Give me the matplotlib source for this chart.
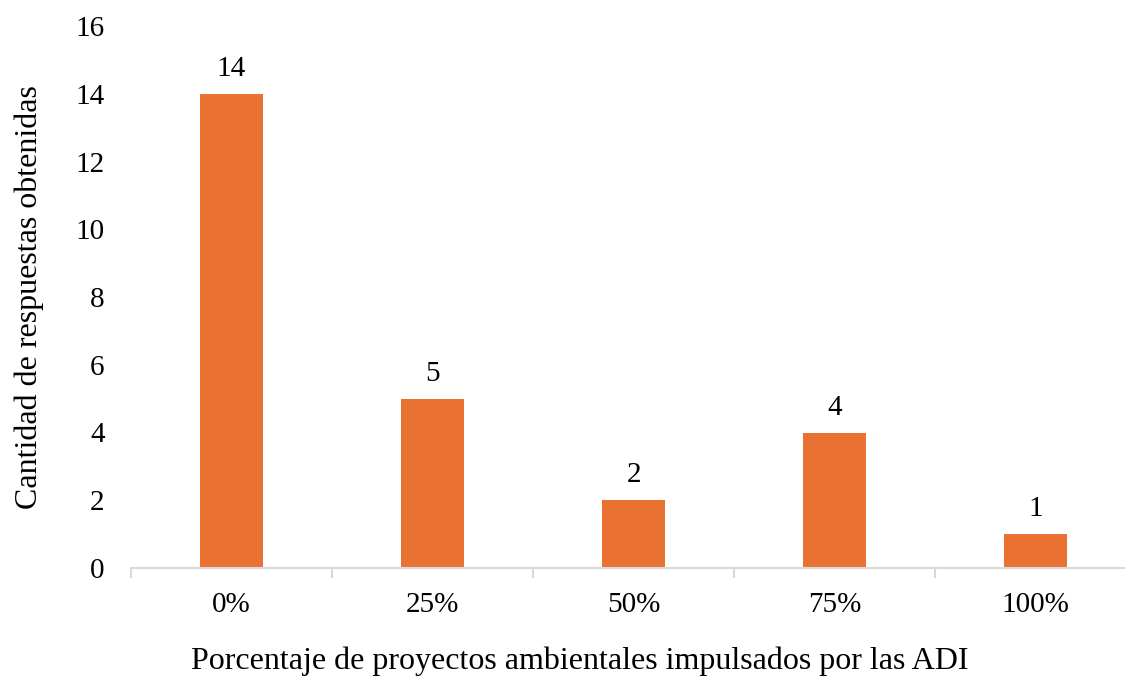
import matplotlib.pyplot as plt

plt.rcParams['font.family'] = ['Liberation Serif', 'DejaVu Serif']

# respuestas por porcentaje de proyectos
categorias = ['0%', '25%', '50%', '75%', '100%']
respuestas = [14, 5, 2, 4, 1]

fig = plt.figure(figsize=(11.25, 6.77), dpi=100)
ax = fig.add_axes([131/1125, 109/677, 1005/1125, 542/677])

x = range(len(categorias))
bars = ax.bar(x, respuestas, width=0.315, color='#E97132', zorder=2)

for xi, v in zip(x, respuestas):
    ax.text(xi, v + 0.35, str(v), ha='center', va='bottom', fontsize=21)

ax.set_xlim(-0.5, len(categorias) - 0.5)
ax.set_ylim(0, 16)
ax.set_yticks(range(0, 17, 2))
ax.set_xticks(list(x))
ax.set_xticklabels(categorias)

# ticks de categoria en los bordes
ax.set_xticks([i - 0.5 for i in range(len(categorias) + 1)], minor=True)
ax.tick_params(axis='x', which='major', length=0, pad=17, labelsize=21)
ax.tick_params(axis='x', which='minor', length=7, color='#D9D9D9', width=1.5)
ax.tick_params(axis='y', length=0, pad=19, labelsize=21)

for s in ['top', 'right', 'left']:
    ax.spines[s].set_visible(False)
ax.spines['bottom'].set_color('#D9D9D9')
ax.spines['bottom'].set_linewidth(1.5)

ax.set_ylabel('Cantidad de respuestas obtenidas', fontsize=23)
ax.set_xlabel('Porcentaje de proyectos ambientales impulsados por las ADI',
              fontsize=23)
ax.xaxis.set_label_coords(0.447, -0.144)
ax.yaxis.set_label_coords(-0.087, 0.5)

fig.savefig('out.png', dpi=100)
